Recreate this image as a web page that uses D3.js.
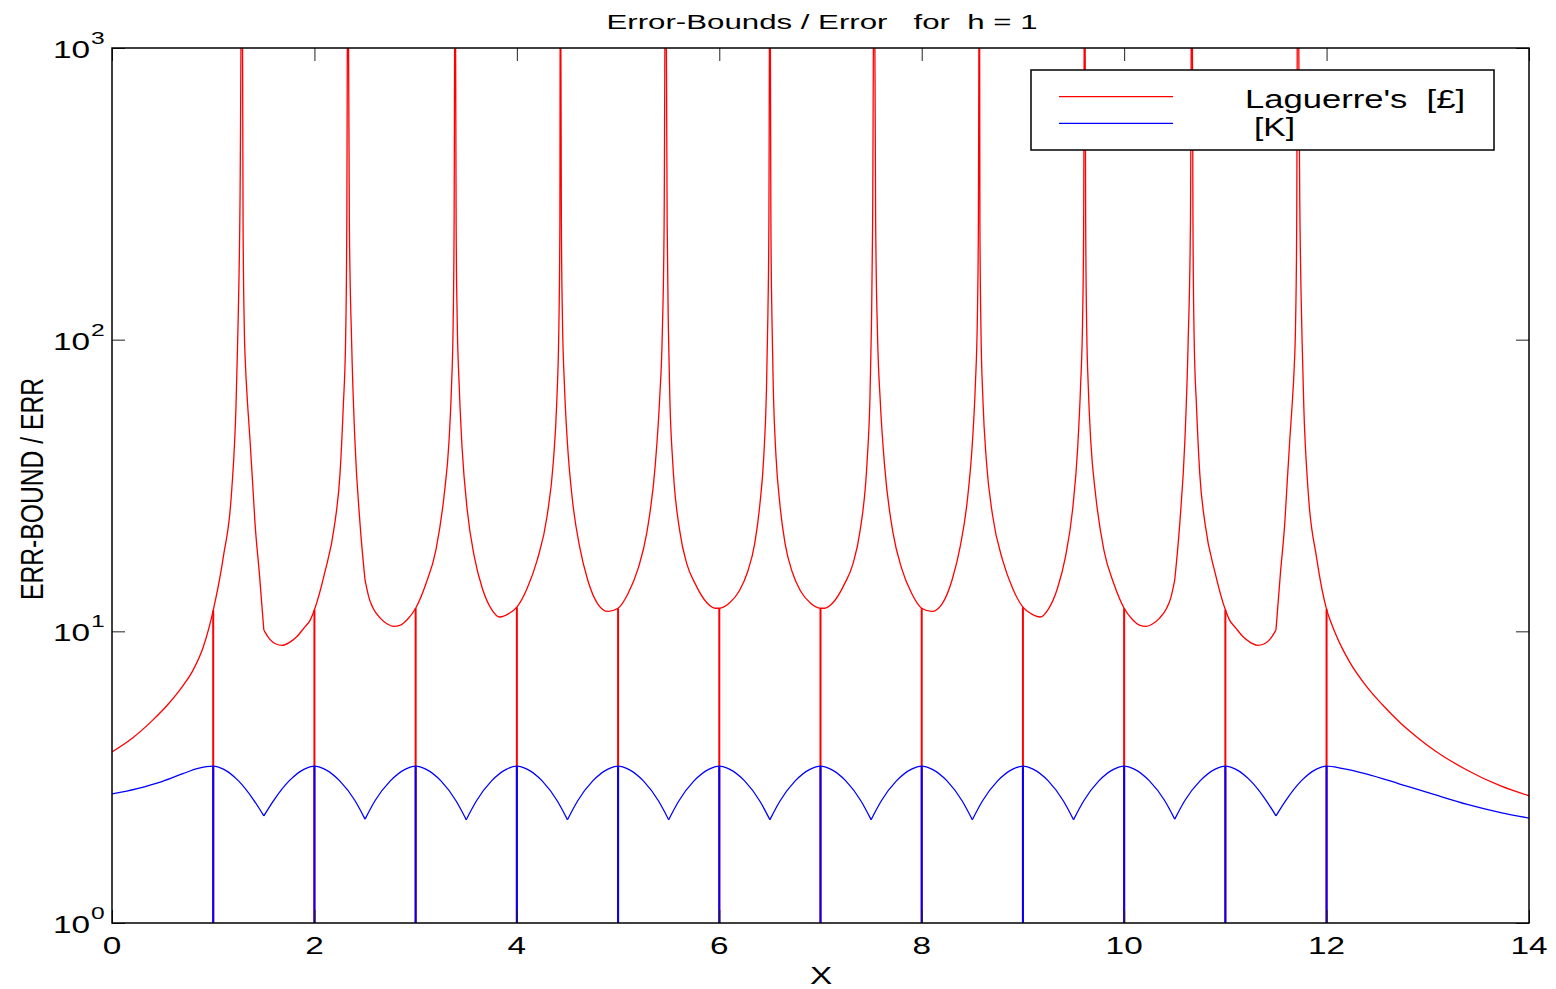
<!DOCTYPE html>
<html>
<head>
<meta charset="utf-8">
<script src="https://cdn.jsdelivr.net/npm/d3@7"></script>
<style>
body { margin: 0; background: #fff; }
text { font-family: "Liberation Sans", Arial, sans-serif; fill: #000; white-space: pre; }
</style>
</head>
<body>
<svg id="chart"></svg>
<script>
// ---- data ----
var xTicks = [0, 2, 4, 6, 8, 10, 12, 14];
var yTicks = [1, 10, 100, 1000];
var yTickExp = ["0", "1", "2", "3"];

// Laguerre's bound / error (red); corners where the curve has a kink
var redX = [
  0, 0.2, 0.4, 0.55, 0.7, 0.8, 0.9, 1.0, 1.1, 1.183, 1.225, 1.242, 1.265, 1.285, 1.295, 1.307, 1.32, 1.335, 1.364, 1.39, 1.413, 1.456, 1.5,
  1.56, 1.62, 1.68, 1.75, 1.825, 1.9, 1.957, 2.0, 2.1, 2.2, 2.253, 2.285, 2.308, 2.32, 2.33, 2.345, 2.367, 2.4, 2.45, 2.5,
  2.54, 2.58, 2.65, 2.72, 2.78, 2.85, 2.92, 3.0, 3.1, 3.2, 3.28, 3.33, 3.355, 3.37, 3.38, 3.39, 3.4, 3.41, 3.43, 3.46, 3.51, 3.58, 3.66, 3.75, 3.83, 3.92,
  4.0, 4.1, 4.2, 4.3, 4.36, 4.395, 4.415, 4.425, 4.43, 4.44, 4.45, 4.47, 4.5, 4.55, 4.62, 4.7, 4.8, 4.9,
  5.0, 5.1, 5.2, 5.283, 5.366, 5.41, 5.437, 5.455, 5.47, 5.485, 5.497, 5.512, 5.54, 5.61, 5.68, 5.76, 5.88, 5.96,
  6.0, 6.1, 6.2, 6.28, 6.35, 6.4, 6.44, 6.465, 6.48, 6.49, 6.5, 6.51, 6.52, 6.535, 6.56, 6.6, 6.65, 6.72, 6.8, 6.9,
  7.0, 7.04, 7.12, 7.24, 7.32, 7.39, 7.46, 7.488, 7.503, 7.515, 7.53, 7.545, 7.563, 7.59, 7.634, 7.717, 7.8, 7.9,
  8.0, 8.1, 8.2, 8.3, 8.38, 8.45, 8.5, 8.53, 8.55, 8.56, 8.57, 8.575, 8.585, 8.605, 8.64, 8.7, 8.8, 8.9,
  9.0, 9.08, 9.17, 9.25, 9.34, 9.42, 9.49, 9.54, 9.57, 9.59, 9.6, 9.61, 9.62, 9.63, 9.645, 9.67, 9.72, 9.8, 9.9,
  10.0, 10.08, 10.15, 10.22, 10.28, 10.35, 10.42, 10.46, 10.5,
  10.55, 10.6, 10.633, 10.655, 10.67, 10.68, 10.692, 10.715, 10.747, 10.8, 10.9, 11.0, 11.043, 11.1, 11.175, 11.25, 11.32, 11.38, 11.44, 11.5,
  11.544, 11.587, 11.61, 11.636, 11.665, 11.68, 11.693, 11.705, 11.715, 11.735, 11.758, 11.775, 11.817, 11.9, 12.0, 12.05, 12.1, 12.16, 12.23, 12.4, 12.55, 12.73, 12.9, 13.06, 13.39, 13.72, 14
];
var redY = [
  3.86, 4.3, 4.95, 5.6, 6.5, 7.35, 8.8, 11.8, 18, 30.5, 59, 100, 300, 3000, 250, 110, 80, 64, 45, 32, 23.5, 15.8, 10.1,
  9.39, 9.05, 8.95, 9.15, 9.58, 10.3, 10.9, 11.85, 15.8, 23.3, 34.8, 59, 100, 250, 3000, 250, 100, 45, 23.5, 15,
  13, 12, 11.1, 10.6, 10.4, 10.5, 11.0, 12.0, 14.5, 19, 29, 45, 70, 110, 250, 3000, 250, 120, 70, 42, 26, 18, 14, 11.9, 11.2, 11.5,
  12.1, 14, 17.5, 25, 38, 62, 110, 250, 3000, 250, 120, 70, 44, 28, 19.5, 15, 12.4, 11.7,
  12, 13.5, 16.5, 21.7, 36.7, 62, 105, 250, 3000, 250, 110, 62, 38, 22, 17, 14.6, 12.5, 12.0,
  12, 12.5, 13.8, 16, 20, 27, 40, 65, 120, 250, 3000, 250, 120, 65, 40, 27, 20, 16, 13.8, 12.5,
  12, 12.0, 12.5, 14.6, 17, 22, 38, 62, 110, 250, 3000, 250, 105, 62, 36.7, 21.7, 16.5, 13.5,
  12, 11.7, 12.4, 15, 19.5, 28, 44, 70, 120, 250, 3000, 250, 110, 62, 38, 25, 17.5, 14,
  12.1, 11.5, 11.2, 11.9, 14, 18, 26, 42, 70, 120, 250, 3000, 250, 110, 70, 45, 29, 19, 14.5,
  12.0, 11.0, 10.5, 10.4, 10.6, 11.1, 12, 13, 15,
  23.5, 45, 100, 250, 3000, 250, 100, 59, 34.8, 23.3, 15.8, 11.85, 10.9, 10.3, 9.58, 9.15, 8.95, 9.05, 9.39, 10.1,
  15.8, 23.5, 32, 45, 64, 80, 110, 250, 3000, 300, 100, 59, 30.5, 18, 11.9, 10.6, 9.6, 8.67, 7.83, 6.44, 5.61, 4.85, 4.32, 3.92, 3.34, 2.95, 2.73
];
var redCorners = [1.5, 2.5, 10.5, 11.5];

// [K] bound / error (blue); cusps at the half-integers
var blueX = [
  0, 0.25, 0.5, 0.7, 0.85, 1, 1.1, 1.25, 1.4, 1.5,
  1.6, 1.75, 1.9, 2, 2.1, 2.25, 2.4, 2.5,
  2.6, 2.75, 2.9, 3, 3.1, 3.25, 3.4, 3.5,
  3.6, 3.75, 3.9, 4, 4.1, 4.25, 4.4, 4.5,
  4.6, 4.75, 4.9, 5, 5.1, 5.25, 5.4, 5.5,
  5.6, 5.75, 5.9, 6, 6.1, 6.25, 6.4, 6.5,
  6.6, 6.75, 6.9, 7, 7.1, 7.25, 7.4, 7.5,
  7.6, 7.75, 7.9, 8, 8.1, 8.25, 8.4, 8.5,
  8.6, 8.75, 8.9, 9, 9.1, 9.25, 9.4, 9.5,
  9.6, 9.75, 9.9, 10, 10.1, 10.25, 10.4, 10.5,
  10.6, 10.75, 10.9, 11, 11.1, 11.25, 11.4, 11.5,
  11.6, 11.75, 11.9, 12, 12.15, 12.4, 12.73, 13.06, 13.39, 13.72, 14
];
var blueY = [
  2.77, 2.89, 3.06, 3.25, 3.39, 3.45, 3.37, 3.07, 2.64, 2.33,
  2.64, 3.07, 3.37, 3.45, 3.37, 3.07, 2.63, 2.27,
  2.63, 3.07, 3.37, 3.45, 3.37, 3.07, 2.62, 2.26,
  2.62, 3.07, 3.37, 3.45, 3.37, 3.07, 2.62, 2.26,
  2.62, 3.07, 3.37, 3.45, 3.37, 3.07, 2.62, 2.26,
  2.62, 3.07, 3.37, 3.45, 3.37, 3.07, 2.62, 2.26,
  2.62, 3.07, 3.37, 3.45, 3.37, 3.07, 2.62, 2.26,
  2.62, 3.07, 3.37, 3.45, 3.37, 3.07, 2.62, 2.26,
  2.62, 3.07, 3.37, 3.45, 3.37, 3.07, 2.62, 2.26,
  2.62, 3.07, 3.37, 3.45, 3.37, 3.07, 2.63, 2.27,
  2.63, 3.07, 3.37, 3.45, 3.37, 3.07, 2.64, 2.33,
  2.64, 3.07, 3.37, 3.45, 3.39, 3.24, 2.99, 2.76, 2.55, 2.39, 2.29
];
var blueCusps = [1.5, 2.5, 3.5, 4.5, 5.5, 6.5, 7.5, 8.5, 9.5, 10.5, 11.5];

// at the nodes the error is zero, both ratios drop to the bottom
var nodeX = [1, 2, 3, 4, 5, 6, 7, 8, 9, 10, 11, 12];
var redNodeY = [11.8, 11.85, 12.0, 12.1, 12, 12, 12, 12, 12.1, 12.0, 11.85, 11.9];
var blueNodeY = [3.45, 3.45, 3.45, 3.45, 3.45, 3.45, 3.45, 3.45, 3.45, 3.45, 3.45, 3.45];

var legendLabels = ["Laguerre's  [\u00a3]", "[K]"];
var seriesColors = ["#ff0000", "#0000ff"];

// ---- layout ----
var width = 1556, height = 989;
var px0 = 112, px1 = 1529, py0 = 48, py1 = 923;
var sx = 1.45; // the figure's text is stretched sideways

var svg = d3.select("#chart")
    .attr("width", width)
    .attr("height", height);

var x = d3.scaleLinear().domain([0, 14]).range([px0, px1]);
var y = d3.scaleLog().domain([1, 1000]).range([py1, py0]);

svg.append("defs").append("clipPath").attr("id", "plotclip")
  .append("rect")
    .attr("x", px0).attr("y", py0)
    .attr("width", px1 - px0).attr("height", py1 - py0);

function pieces(xs, ys, breaks) {
    var out = [], cur = [];
    for (var i = 0; i < xs.length; i++) {
        cur.push([xs[i], ys[i]]);
        if (breaks.indexOf(xs[i]) >= 0) {
            out.push(cur);
            cur = [[xs[i], ys[i]]];
        }
    }
    if (cur.length > 1) out.push(cur);
    return out;
}

var line = d3.line()
    .x(function(d) { return x(d[0]); })
    .y(function(d) { return y(d[1]); })
    .curve(d3.curveMonotoneX);

var plot = svg.append("g").attr("clip-path", "url(#plotclip)");

function drawSeries(xs, ys, breaks, nodeY, color) {
    plot.selectAll(null)
        .data(pieces(xs, ys, breaks))
        .enter().append("path")
        .attr("d", line)
        .attr("fill", "none")
        .attr("stroke", color)
        .attr("stroke-width", 1.3);
    plot.selectAll(null)
        .data(nodeX)
        .enter().append("line")
        .attr("x1", function(d) { return x(d); })
        .attr("x2", function(d) { return x(d); })
        .attr("y1", function(d, i) { return y(nodeY[i]); })
        .attr("y2", y(1) + 2)
        .attr("stroke", color)
        .attr("stroke-width", 2);
}

drawSeries(redX, redY, redCorners, redNodeY, seriesColors[0]);
drawSeries(blueX, blueY, blueCusps, blueNodeY, seriesColors[1]);

// ---- ticks (inward, all four sides) ----
var tk = 13;
function styleAxis(g) {
    g.select(".domain").remove();
    g.selectAll(".tick line").attr("stroke", "#222").attr("stroke-width", 1);
}
svg.append("g").attr("transform", "translate(0," + py1 + ")")
    .call(d3.axisBottom(x).tickValues(xTicks).tickSize(-tk).tickFormat("")).call(styleAxis);
svg.append("g").attr("transform", "translate(0," + py0 + ")")
    .call(d3.axisTop(x).tickValues(xTicks).tickSize(-tk).tickFormat("")).call(styleAxis);
svg.append("g").attr("transform", "translate(" + px0 + ",0)")
    .call(d3.axisLeft(y).tickValues(yTicks).tickSize(-tk).tickFormat("")).call(styleAxis);
svg.append("g").attr("transform", "translate(" + px1 + ",0)")
    .call(d3.axisRight(y).tickValues(yTicks).tickSize(-tk).tickFormat("")).call(styleAxis);

svg.append("rect")
    .attr("x", px0).attr("y", py0)
    .attr("width", px1 - px0).attr("height", py1 - py0)
    .attr("fill", "none").attr("stroke", "#000").attr("stroke-width", 1.5);

// ---- text ----
function label(txt, tx, ty, size, anchor, len) {
    var t = svg.append("text")
        .attr("transform", "translate(" + tx + "," + ty + ") scale(" + sx + ",1)")
        .attr("font-size", size)
        .attr("text-anchor", anchor)
        .text(txt);
    if (len) t.attr("textLength", len / sx).attr("lengthAdjust", "spacingAndGlyphs");
    return t;
}

xTicks.forEach(function(v) { label(String(v), x(v), 954, 23, "middle"); });
yTicks.forEach(function(v, i) {
    label("10", 90, y(v) + 10, 23, "end");
    label(yTickExp[i], 91, y(v) - 4, 17, "start");
});

label("Error-Bounds / Error   for  h = 1", 822, 29, 21, "middle", 431);
label("X", 821, 984, 23, "middle");

svg.append("text")
    .attr("transform", "translate(43,489) scale(" + sx + ",1) rotate(-90)")
    .attr("font-size", 21)
    .attr("text-anchor", "middle")
    .attr("textLength", 222).attr("lengthAdjust", "spacingAndGlyphs")
    .text("ERR-BOUND / ERR");

// ---- legend ----
var lg = svg.append("g");
lg.append("rect")
    .attr("x", 1031).attr("y", 70).attr("width", 463).attr("height", 80)
    .attr("fill", "#fff").attr("stroke", "#000").attr("stroke-width", 1.5);
[96.7, 123.3].forEach(function(ly, i) {
    lg.append("line")
        .attr("x1", 1059).attr("x2", 1173).attr("y1", ly).attr("y2", ly)
        .attr("stroke", seriesColors[i]).attr("stroke-width", 1.3);
});
label(legendLabels[0], 1245, 108, 25, "start", 220);
label(legendLabels[1], 1254, 136, 25, "start", 41);
</script>
</body>
</html>
